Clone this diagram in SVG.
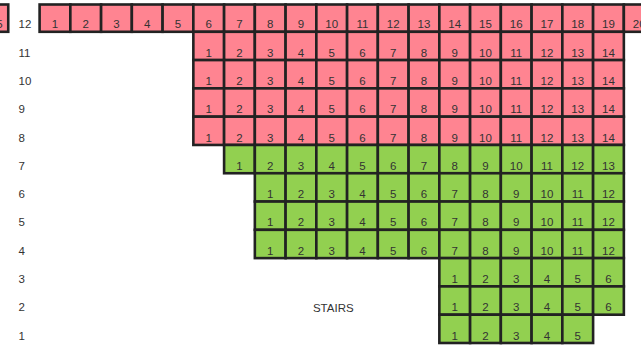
<svg xmlns="http://www.w3.org/2000/svg" width="641" height="348" viewBox="0 0 641 348">
<style>
rect{stroke:#222;stroke-width:2.6}
.p rect{fill:#FF8491}
.g rect{fill:#92D050}
text{font-family:"Liberation Sans",Arial,sans-serif;font-size:11.5px;fill:#333}
g text{text-anchor:middle}
.lab text{text-anchor:start}
</style>
<rect width="641" height="348" fill="#fff" style="stroke:none"/>
<g id="labels" class="lab">
<text x="18.5" y="28.3">12</text>
<text x="18.5" y="56.6">11</text>
<text x="18.5" y="84.9">10</text>
<text x="18.5" y="113.2">9</text>
<text x="18.5" y="141.5">8</text>
<text x="18.5" y="169.75">7</text>
<text x="18.5" y="198">6</text>
<text x="18.5" y="226.3">5</text>
<text x="18.5" y="254.6">4</text>
<text x="18.5" y="282.9">3</text>
<text x="18.5" y="311.2">2</text>
<text x="18.5" y="339.5">1</text>
</g>
<g id="stairs"><text x="333.3" y="311.8">STAIRS</text></g>
<g id="edge-cell" class="p"><rect x="-22.5" y="4.5" width="30.75" height="27.3"/><text x="-0.6" y="28.3">5</text></g>
<g id="row12" class="p">
<g id="r12c1"><rect x="39.6" y="4.5" width="30.75" height="27.3"/><text x="55" y="28.3">1</text></g>
<g id="r12c2"><rect x="70.35" y="4.5" width="30.75" height="27.3"/><text x="85.7" y="28.3">2</text></g>
<g id="r12c3"><rect x="101.1" y="4.5" width="30.75" height="27.3"/><text x="116.5" y="28.3">3</text></g>
<g id="r12c4"><rect x="131.85" y="4.5" width="30.75" height="27.3"/><text x="147.2" y="28.3">4</text></g>
<g id="r12c5"><rect x="162.6" y="4.5" width="30.75" height="27.3"/><text x="178" y="28.3">5</text></g>
<g id="r12c6"><rect x="193.35" y="4.5" width="30.75" height="27.3"/><text x="208.7" y="28.3">6</text></g>
<g id="r12c7"><rect x="224.1" y="4.5" width="30.75" height="27.3"/><text x="239.5" y="28.3">7</text></g>
<g id="r12c8"><rect x="254.85" y="4.5" width="30.75" height="27.3"/><text x="270.2" y="28.3">8</text></g>
<g id="r12c9"><rect x="285.6" y="4.5" width="30.75" height="27.3"/><text x="301" y="28.3">9</text></g>
<g id="r12c10"><rect x="316.35" y="4.5" width="30.75" height="27.3"/><text x="331.7" y="28.3">10</text></g>
<g id="r12c11"><rect x="347.1" y="4.5" width="30.75" height="27.3"/><text x="362.5" y="28.3">11</text></g>
<g id="r12c12"><rect x="377.85" y="4.5" width="30.75" height="27.3"/><text x="393.2" y="28.3">12</text></g>
<g id="r12c13"><rect x="408.6" y="4.5" width="30.75" height="27.3"/><text x="424" y="28.3">13</text></g>
<g id="r12c14"><rect x="439.35" y="4.5" width="30.75" height="27.3"/><text x="454.7" y="28.3">14</text></g>
<g id="r12c15"><rect x="470.1" y="4.5" width="30.75" height="27.3"/><text x="485.5" y="28.3">15</text></g>
<g id="r12c16"><rect x="500.85" y="4.5" width="30.75" height="27.3"/><text x="516.2" y="28.3">16</text></g>
<g id="r12c17"><rect x="531.6" y="4.5" width="30.75" height="27.3"/><text x="547" y="28.3">17</text></g>
<g id="r12c18"><rect x="562.35" y="4.5" width="30.75" height="27.3"/><text x="577.7" y="28.3">18</text></g>
<g id="r12c19"><rect x="593.1" y="4.5" width="30.75" height="27.3"/><text x="608.5" y="28.3">19</text></g>
<g id="r12c20"><rect x="623.85" y="4.5" width="30.75" height="27.3"/><text x="639.2" y="28.3">20</text></g>
</g>
<g id="row11" class="p">
<g id="r11s1"><rect x="193.35" y="31.8" width="30.75" height="28.29"/><text x="208.7" y="56.6">1</text></g>
<g id="r11s2"><rect x="224.1" y="31.8" width="30.75" height="28.29"/><text x="239.5" y="56.6">2</text></g>
<g id="r11s3"><rect x="254.85" y="31.8" width="30.75" height="28.29"/><text x="270.2" y="56.6">3</text></g>
<g id="r11s4"><rect x="285.6" y="31.8" width="30.75" height="28.29"/><text x="301" y="56.6">4</text></g>
<g id="r11s5"><rect x="316.35" y="31.8" width="30.75" height="28.29"/><text x="331.7" y="56.6">5</text></g>
<g id="r11s6"><rect x="347.1" y="31.8" width="30.75" height="28.29"/><text x="362.5" y="56.6">6</text></g>
<g id="r11s7"><rect x="377.85" y="31.8" width="30.75" height="28.29"/><text x="393.2" y="56.6">7</text></g>
<g id="r11s8"><rect x="408.6" y="31.8" width="30.75" height="28.29"/><text x="424" y="56.6">8</text></g>
<g id="r11s9"><rect x="439.35" y="31.8" width="30.75" height="28.29"/><text x="454.7" y="56.6">9</text></g>
<g id="r11s10"><rect x="470.1" y="31.8" width="30.75" height="28.29"/><text x="485.5" y="56.6">10</text></g>
<g id="r11s11"><rect x="500.85" y="31.8" width="30.75" height="28.29"/><text x="516.2" y="56.6">11</text></g>
<g id="r11s12"><rect x="531.6" y="31.8" width="30.75" height="28.29"/><text x="547" y="56.6">12</text></g>
<g id="r11s13"><rect x="562.35" y="31.8" width="30.75" height="28.29"/><text x="577.7" y="56.6">13</text></g>
<g id="r11s14"><rect x="593.1" y="31.8" width="30.75" height="28.29"/><text x="608.5" y="56.6">14</text></g>
</g>
<g id="row10" class="p">
<g id="r10s1"><rect x="193.35" y="60.09" width="30.75" height="28.29"/><text x="208.7" y="84.9">1</text></g>
<g id="r10s2"><rect x="224.1" y="60.09" width="30.75" height="28.29"/><text x="239.5" y="84.9">2</text></g>
<g id="r10s3"><rect x="254.85" y="60.09" width="30.75" height="28.29"/><text x="270.2" y="84.9">3</text></g>
<g id="r10s4"><rect x="285.6" y="60.09" width="30.75" height="28.29"/><text x="301" y="84.9">4</text></g>
<g id="r10s5"><rect x="316.35" y="60.09" width="30.75" height="28.29"/><text x="331.7" y="84.9">5</text></g>
<g id="r10s6"><rect x="347.1" y="60.09" width="30.75" height="28.29"/><text x="362.5" y="84.9">6</text></g>
<g id="r10s7"><rect x="377.85" y="60.09" width="30.75" height="28.29"/><text x="393.2" y="84.9">7</text></g>
<g id="r10s8"><rect x="408.6" y="60.09" width="30.75" height="28.29"/><text x="424" y="84.9">8</text></g>
<g id="r10s9"><rect x="439.35" y="60.09" width="30.75" height="28.29"/><text x="454.7" y="84.9">9</text></g>
<g id="r10s10"><rect x="470.1" y="60.09" width="30.75" height="28.29"/><text x="485.5" y="84.9">10</text></g>
<g id="r10s11"><rect x="500.85" y="60.09" width="30.75" height="28.29"/><text x="516.2" y="84.9">11</text></g>
<g id="r10s12"><rect x="531.6" y="60.09" width="30.75" height="28.29"/><text x="547" y="84.9">12</text></g>
<g id="r10s13"><rect x="562.35" y="60.09" width="30.75" height="28.29"/><text x="577.7" y="84.9">13</text></g>
<g id="r10s14"><rect x="593.1" y="60.09" width="30.75" height="28.29"/><text x="608.5" y="84.9">14</text></g>
</g>
<g id="row9" class="p">
<g id="r9s1"><rect x="193.35" y="88.38" width="30.75" height="28.29"/><text x="208.7" y="113.2">1</text></g>
<g id="r9s2"><rect x="224.1" y="88.38" width="30.75" height="28.29"/><text x="239.5" y="113.2">2</text></g>
<g id="r9s3"><rect x="254.85" y="88.38" width="30.75" height="28.29"/><text x="270.2" y="113.2">3</text></g>
<g id="r9s4"><rect x="285.6" y="88.38" width="30.75" height="28.29"/><text x="301" y="113.2">4</text></g>
<g id="r9s5"><rect x="316.35" y="88.38" width="30.75" height="28.29"/><text x="331.7" y="113.2">5</text></g>
<g id="r9s6"><rect x="347.1" y="88.38" width="30.75" height="28.29"/><text x="362.5" y="113.2">6</text></g>
<g id="r9s7"><rect x="377.85" y="88.38" width="30.75" height="28.29"/><text x="393.2" y="113.2">7</text></g>
<g id="r9s8"><rect x="408.6" y="88.38" width="30.75" height="28.29"/><text x="424" y="113.2">8</text></g>
<g id="r9s9"><rect x="439.35" y="88.38" width="30.75" height="28.29"/><text x="454.7" y="113.2">9</text></g>
<g id="r9s10"><rect x="470.1" y="88.38" width="30.75" height="28.29"/><text x="485.5" y="113.2">10</text></g>
<g id="r9s11"><rect x="500.85" y="88.38" width="30.75" height="28.29"/><text x="516.2" y="113.2">11</text></g>
<g id="r9s12"><rect x="531.6" y="88.38" width="30.75" height="28.29"/><text x="547" y="113.2">12</text></g>
<g id="r9s13"><rect x="562.35" y="88.38" width="30.75" height="28.29"/><text x="577.7" y="113.2">13</text></g>
<g id="r9s14"><rect x="593.1" y="88.38" width="30.75" height="28.29"/><text x="608.5" y="113.2">14</text></g>
</g>
<g id="row8" class="p">
<g id="r8s1"><rect x="193.35" y="116.67" width="30.75" height="28.29"/><text x="208.7" y="141.5">1</text></g>
<g id="r8s2"><rect x="224.1" y="116.67" width="30.75" height="28.29"/><text x="239.5" y="141.5">2</text></g>
<g id="r8s3"><rect x="254.85" y="116.67" width="30.75" height="28.29"/><text x="270.2" y="141.5">3</text></g>
<g id="r8s4"><rect x="285.6" y="116.67" width="30.75" height="28.29"/><text x="301" y="141.5">4</text></g>
<g id="r8s5"><rect x="316.35" y="116.67" width="30.75" height="28.29"/><text x="331.7" y="141.5">5</text></g>
<g id="r8s6"><rect x="347.1" y="116.67" width="30.75" height="28.29"/><text x="362.5" y="141.5">6</text></g>
<g id="r8s7"><rect x="377.85" y="116.67" width="30.75" height="28.29"/><text x="393.2" y="141.5">7</text></g>
<g id="r8s8"><rect x="408.6" y="116.67" width="30.75" height="28.29"/><text x="424" y="141.5">8</text></g>
<g id="r8s9"><rect x="439.35" y="116.67" width="30.75" height="28.29"/><text x="454.7" y="141.5">9</text></g>
<g id="r8s10"><rect x="470.1" y="116.67" width="30.75" height="28.29"/><text x="485.5" y="141.5">10</text></g>
<g id="r8s11"><rect x="500.85" y="116.67" width="30.75" height="28.29"/><text x="516.2" y="141.5">11</text></g>
<g id="r8s12"><rect x="531.6" y="116.67" width="30.75" height="28.29"/><text x="547" y="141.5">12</text></g>
<g id="r8s13"><rect x="562.35" y="116.67" width="30.75" height="28.29"/><text x="577.7" y="141.5">13</text></g>
<g id="r8s14"><rect x="593.1" y="116.67" width="30.75" height="28.29"/><text x="608.5" y="141.5">14</text></g>
</g>
<g id="row7" class="g">
<g id="r7s1"><rect x="224.1" y="144.96" width="30.75" height="28.29"/><text x="239.5" y="169.75">1</text></g>
<g id="r7s2"><rect x="254.85" y="144.96" width="30.75" height="28.29"/><text x="270.2" y="169.75">2</text></g>
<g id="r7s3"><rect x="285.6" y="144.96" width="30.75" height="28.29"/><text x="301" y="169.75">3</text></g>
<g id="r7s4"><rect x="316.35" y="144.96" width="30.75" height="28.29"/><text x="331.7" y="169.75">4</text></g>
<g id="r7s5"><rect x="347.1" y="144.96" width="30.75" height="28.29"/><text x="362.5" y="169.75">5</text></g>
<g id="r7s6"><rect x="377.85" y="144.96" width="30.75" height="28.29"/><text x="393.2" y="169.75">6</text></g>
<g id="r7s7"><rect x="408.6" y="144.96" width="30.75" height="28.29"/><text x="424" y="169.75">7</text></g>
<g id="r7s8"><rect x="439.35" y="144.96" width="30.75" height="28.29"/><text x="454.7" y="169.75">8</text></g>
<g id="r7s9"><rect x="470.1" y="144.96" width="30.75" height="28.29"/><text x="485.5" y="169.75">9</text></g>
<g id="r7s10"><rect x="500.85" y="144.96" width="30.75" height="28.29"/><text x="516.2" y="169.75">10</text></g>
<g id="r7s11"><rect x="531.6" y="144.96" width="30.75" height="28.29"/><text x="547" y="169.75">11</text></g>
<g id="r7s12"><rect x="562.35" y="144.96" width="30.75" height="28.29"/><text x="577.7" y="169.75">12</text></g>
<g id="r7s13"><rect x="593.1" y="144.96" width="30.75" height="28.29"/><text x="608.5" y="169.75">13</text></g>
</g>
<g id="row6" class="g">
<g id="r6s1"><rect x="254.85" y="173.25" width="30.75" height="28.29"/><text x="270.2" y="198">1</text></g>
<g id="r6s2"><rect x="285.6" y="173.25" width="30.75" height="28.29"/><text x="301" y="198">2</text></g>
<g id="r6s3"><rect x="316.35" y="173.25" width="30.75" height="28.29"/><text x="331.7" y="198">3</text></g>
<g id="r6s4"><rect x="347.1" y="173.25" width="30.75" height="28.29"/><text x="362.5" y="198">4</text></g>
<g id="r6s5"><rect x="377.85" y="173.25" width="30.75" height="28.29"/><text x="393.2" y="198">5</text></g>
<g id="r6s6"><rect x="408.6" y="173.25" width="30.75" height="28.29"/><text x="424" y="198">6</text></g>
<g id="r6s7"><rect x="439.35" y="173.25" width="30.75" height="28.29"/><text x="454.7" y="198">7</text></g>
<g id="r6s8"><rect x="470.1" y="173.25" width="30.75" height="28.29"/><text x="485.5" y="198">8</text></g>
<g id="r6s9"><rect x="500.85" y="173.25" width="30.75" height="28.29"/><text x="516.2" y="198">9</text></g>
<g id="r6s10"><rect x="531.6" y="173.25" width="30.75" height="28.29"/><text x="547" y="198">10</text></g>
<g id="r6s11"><rect x="562.35" y="173.25" width="30.75" height="28.29"/><text x="577.7" y="198">11</text></g>
<g id="r6s12"><rect x="593.1" y="173.25" width="30.75" height="28.29"/><text x="608.5" y="198">12</text></g>
</g>
<g id="row5" class="g">
<g id="r5s1"><rect x="254.85" y="201.54" width="30.75" height="28.29"/><text x="270.2" y="226.3">1</text></g>
<g id="r5s2"><rect x="285.6" y="201.54" width="30.75" height="28.29"/><text x="301" y="226.3">2</text></g>
<g id="r5s3"><rect x="316.35" y="201.54" width="30.75" height="28.29"/><text x="331.7" y="226.3">3</text></g>
<g id="r5s4"><rect x="347.1" y="201.54" width="30.75" height="28.29"/><text x="362.5" y="226.3">4</text></g>
<g id="r5s5"><rect x="377.85" y="201.54" width="30.75" height="28.29"/><text x="393.2" y="226.3">5</text></g>
<g id="r5s6"><rect x="408.6" y="201.54" width="30.75" height="28.29"/><text x="424" y="226.3">6</text></g>
<g id="r5s7"><rect x="439.35" y="201.54" width="30.75" height="28.29"/><text x="454.7" y="226.3">7</text></g>
<g id="r5s8"><rect x="470.1" y="201.54" width="30.75" height="28.29"/><text x="485.5" y="226.3">8</text></g>
<g id="r5s9"><rect x="500.85" y="201.54" width="30.75" height="28.29"/><text x="516.2" y="226.3">9</text></g>
<g id="r5s10"><rect x="531.6" y="201.54" width="30.75" height="28.29"/><text x="547" y="226.3">10</text></g>
<g id="r5s11"><rect x="562.35" y="201.54" width="30.75" height="28.29"/><text x="577.7" y="226.3">11</text></g>
<g id="r5s12"><rect x="593.1" y="201.54" width="30.75" height="28.29"/><text x="608.5" y="226.3">12</text></g>
</g>
<g id="row4" class="g">
<g id="r4s1"><rect x="254.85" y="229.83" width="30.75" height="28.29"/><text x="270.2" y="254.6">1</text></g>
<g id="r4s2"><rect x="285.6" y="229.83" width="30.75" height="28.29"/><text x="301" y="254.6">2</text></g>
<g id="r4s3"><rect x="316.35" y="229.83" width="30.75" height="28.29"/><text x="331.7" y="254.6">3</text></g>
<g id="r4s4"><rect x="347.1" y="229.83" width="30.75" height="28.29"/><text x="362.5" y="254.6">4</text></g>
<g id="r4s5"><rect x="377.85" y="229.83" width="30.75" height="28.29"/><text x="393.2" y="254.6">5</text></g>
<g id="r4s6"><rect x="408.6" y="229.83" width="30.75" height="28.29"/><text x="424" y="254.6">6</text></g>
<g id="r4s7"><rect x="439.35" y="229.83" width="30.75" height="28.29"/><text x="454.7" y="254.6">7</text></g>
<g id="r4s8"><rect x="470.1" y="229.83" width="30.75" height="28.29"/><text x="485.5" y="254.6">8</text></g>
<g id="r4s9"><rect x="500.85" y="229.83" width="30.75" height="28.29"/><text x="516.2" y="254.6">9</text></g>
<g id="r4s10"><rect x="531.6" y="229.83" width="30.75" height="28.29"/><text x="547" y="254.6">10</text></g>
<g id="r4s11"><rect x="562.35" y="229.83" width="30.75" height="28.29"/><text x="577.7" y="254.6">11</text></g>
<g id="r4s12"><rect x="593.1" y="229.83" width="30.75" height="28.29"/><text x="608.5" y="254.6">12</text></g>
</g>
<g id="row3" class="g">
<g id="r3s1"><rect x="439.35" y="258.12" width="30.75" height="28.29"/><text x="454.7" y="282.9">1</text></g>
<g id="r3s2"><rect x="470.1" y="258.12" width="30.75" height="28.29"/><text x="485.5" y="282.9">2</text></g>
<g id="r3s3"><rect x="500.85" y="258.12" width="30.75" height="28.29"/><text x="516.2" y="282.9">3</text></g>
<g id="r3s4"><rect x="531.6" y="258.12" width="30.75" height="28.29"/><text x="547" y="282.9">4</text></g>
<g id="r3s5"><rect x="562.35" y="258.12" width="30.75" height="28.29"/><text x="577.7" y="282.9">5</text></g>
<g id="r3s6"><rect x="593.1" y="258.12" width="30.75" height="28.29"/><text x="608.5" y="282.9">6</text></g>
</g>
<g id="row2" class="g">
<g id="r2s1"><rect x="439.35" y="286.41" width="30.75" height="28.29"/><text x="454.7" y="311.2">1</text></g>
<g id="r2s2"><rect x="470.1" y="286.41" width="30.75" height="28.29"/><text x="485.5" y="311.2">2</text></g>
<g id="r2s3"><rect x="500.85" y="286.41" width="30.75" height="28.29"/><text x="516.2" y="311.2">3</text></g>
<g id="r2s4"><rect x="531.6" y="286.41" width="30.75" height="28.29"/><text x="547" y="311.2">4</text></g>
<g id="r2s5"><rect x="562.35" y="286.41" width="30.75" height="28.29"/><text x="577.7" y="311.2">5</text></g>
<g id="r2s6"><rect x="593.1" y="286.41" width="30.75" height="28.29"/><text x="608.5" y="311.2">6</text></g>
</g>
<g id="row1" class="g">
<g id="r1s1"><rect x="439.35" y="314.7" width="30.75" height="28.29"/><text x="454.7" y="339.5">1</text></g>
<g id="r1s2"><rect x="470.1" y="314.7" width="30.75" height="28.29"/><text x="485.5" y="339.5">2</text></g>
<g id="r1s3"><rect x="500.85" y="314.7" width="30.75" height="28.29"/><text x="516.2" y="339.5">3</text></g>
<g id="r1s4"><rect x="531.6" y="314.7" width="30.75" height="28.29"/><text x="547" y="339.5">4</text></g>
<g id="r1s5"><rect x="562.35" y="314.7" width="30.75" height="28.29"/><text x="577.7" y="339.5">5</text></g>
</g>
<g id="connectors"/>
</svg>
